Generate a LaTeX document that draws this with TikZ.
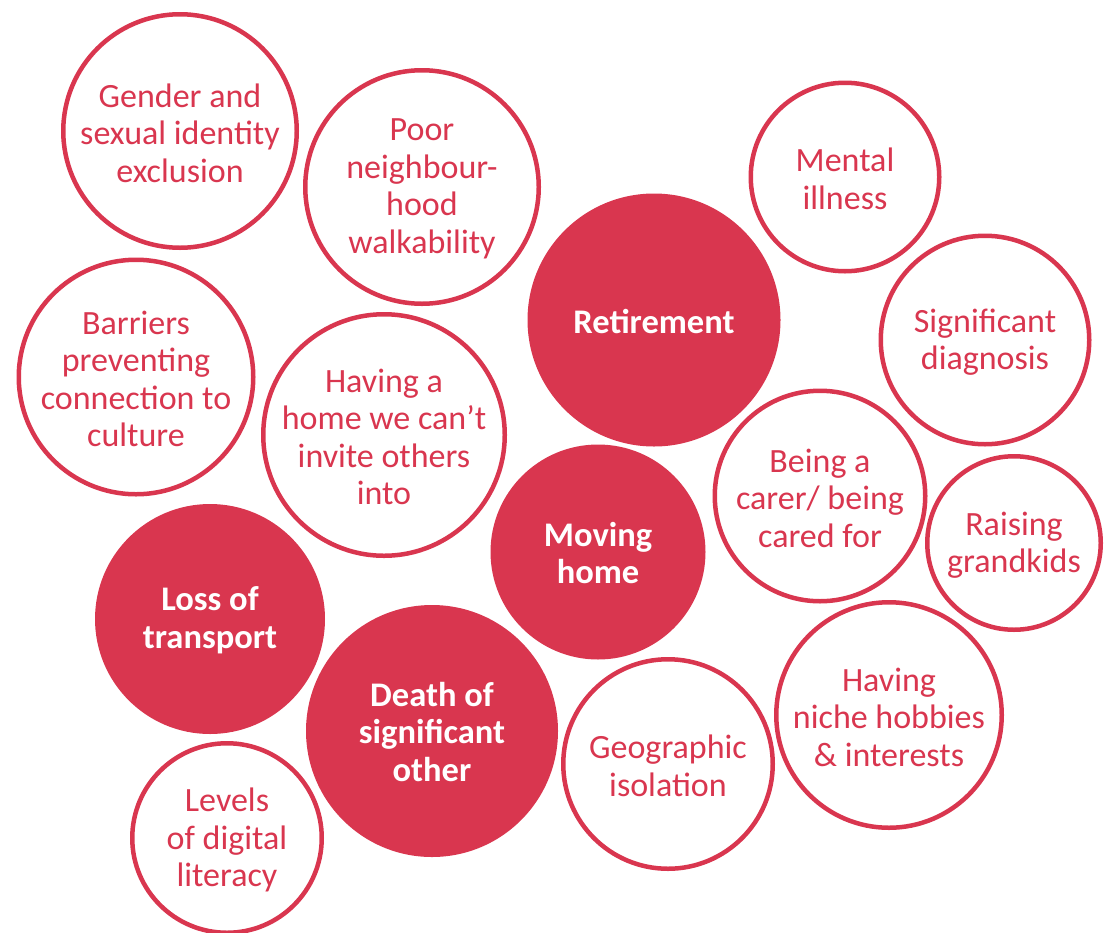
\documentclass[tikz,border=0pt]{standalone}
\usepackage{fontspec}
\setmainfont{Carlito}
\definecolor{bub}{RGB}{217,54,79}
\begin{document}
\begin{tikzpicture}[x=1pt,y=-1pt,
  ring/.style={circle, draw=bub, line width=4.5pt, fill=white, inner sep=0pt},
  disc/.style={circle, fill=bub, inner sep=0pt},
  lbl/.style={align=center, text=bub, font=\fontsize{34}{37.5}\selectfont, inner sep=0pt, yshift=-2pt},
  blbl/.style={align=center, text=white, font=\fontsize{34.5}{37.5}\selectfont\bfseries, inner sep=0pt, yshift=-1pt}]
\useasboundingbox (0,0) rectangle (1113,932);
% circles
\node[ring, minimum size=233.5pt] (c1) at (180,131) {};
\node[ring, minimum size=233.5pt] (c2) at (422,187) {};
\node[ring, minimum size=188.5pt] (c3) at (845,177) {};
\node[disc, minimum size=253pt] (c4) at (654,320) {};
\node[ring, minimum size=208.5pt] (c5) at (985,340) {};
\node[ring, minimum size=234.5pt] (c6) at (136,377) {};
\node[ring, minimum size=241.5pt] (c7) at (384,435) {};
\node[ring, minimum size=210.5pt] (c8) at (820,496) {};
\node[ring, minimum size=173.5pt] (c9) at (1014,543) {};
\node[disc, minimum size=215pt] (c10) at (598,552) {};
\node[disc, minimum size=230pt] (c11) at (210,619) {};
\node[disc, minimum size=252pt] (c12) at (432,731) {};
\node[ring, minimum size=209.5pt] (c13) at (668,764) {};
\node[ring, minimum size=225.5pt] (c14) at (889,715) {};
\node[ring, minimum size=189.5pt] (c15) at (227,838) {};
% labels
\node[lbl] (t1) at (c1) {Gender and\\sexual identity\\exclusion};
\node[lbl] (t2) at (c2) {Poor\\neighbour-\\hood\\walkability};
\node[lbl] (t3) at (c3) {Mental\\illness};
\node[blbl] (t4) at (c4) {Retirement};
\node[lbl] (t5) at (c5) {Significant\\diagnosis};
\node[lbl] (t6) at (c6) {Barriers\\preventing\\connection to\\culture};
\node[lbl] (t7) at (c7) {Having a\\home we can’t\\invite others\\into};
\node[lbl] (t8) at (c8) {Being a\\carer/ being\\cared for};
\node[lbl] (t9) at (c9) {Raising\\grandkids};
\node[blbl] (t10) at (c10) {Moving\\home};
\node[blbl] (t11) at (c11) {Loss of\\transport};
\node[blbl] (t12) at (c12) {Death of\\significant\\other};
\node[lbl] (t13) at (c13) {Geographic\\isolation};
\node[lbl] (t14) at (c14) {Having\\niche hobbies\\\& interests};
\node[lbl] (t15) at (c15) {Levels\\of digital\\literacy};
\end{tikzpicture}
\end{document}
